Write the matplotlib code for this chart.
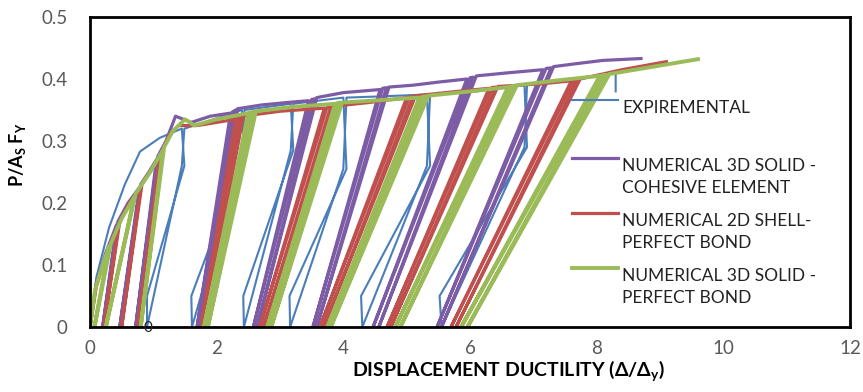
import numpy as np
import matplotlib
matplotlib.use("Agg")
import matplotlib.pyplot as plt

plt.rcParams["mathtext.default"] = "regular"

# ---------------- data (path vertices) ----------------
exp_path = [(0, 0), (0.1, 0.08), (0.3, 0.16), (0.55, 0.23), (0.79, 0.283), (1.1, 0.305), (1.45, 0.32),
            (1.49, 0.26), (0.9, 0.05), (0.9, 0), (1.45, 0.26), (1.49, 0.32), (1.8, 0.33), (2.4, 0.35),
            (2.44, 0.28), (1.6, 0.05), (1.61, 0), (2.4, 0.28), (2.44, 0.35), (2.8, 0.355), (3.17, 0.36),
            (3.21, 0.285), (2.42, 0.05), (2.43, 0), (3.17, 0.285), (3.21, 0.36), (3.6, 0.365), (4.0, 0.37),
            (4.05, 0.255), (3.15, 0.05), (3.16, 0), (4.0, 0.255), (4.05, 0.37), (4.6, 0.372), (5.32, 0.375),
            (5.37, 0.26), (4.28, 0.05), (4.3, 0), (5.32, 0.26), (5.37, 0.375), (6.1, 0.38), (6.86, 0.39),
            (6.9, 0.29), (5.52, 0.05), (5.55, 0), (6.86, 0.29), (6.9, 0.39), (7.6, 0.40), (8.3, 0.41),
            (8.3, 0.38)]

coh_path = [(0, 0), (0.1, 0.07), (0.25, 0.12), (0.42, 0.165), (0.2, 0), (0.44, 0.17), (0.6, 0.2),
            (0.78, 0.225), (0.47, 0), (0.8, 0.23), (0.93, 0.25), (1.05, 0.27), (0.72, 0), (1.07, 0.275),
            (1.2, 0.3), (1.35, 0.34), (1.6, 0.33), (1.9, 0.34), (2.22, 0.345), (1.69, 0), (2.25, 0.347),
            (2.3, 0.35), (1.74, 0), (2.33, 0.352), (2.7, 0.358), (3.1, 0.362), (3.45, 0.365), (2.58, 0),
            (3.5, 0.367), (3.55, 0.368), (2.64, 0), (3.58, 0.37), (4.0, 0.378), (4.58, 0.383), (3.52, 0),
            (4.62, 0.385), (4.68, 0.386), (3.58, 0), (4.72, 0.387), (5.1, 0.39), (5.5, 0.395), (5.95, 0.40),
            (4.47, 0), (6.0, 0.402), (6.05, 0.403), (4.56, 0), (6.1, 0.405), (6.6, 0.41), (7.15, 0.415),
            (5.48, 0), (7.2, 0.417), (7.28, 0.418), (5.55, 0), (7.32, 0.42), (7.7, 0.425), (8.1, 0.43),
            (8.7, 0.433)]

shell_path = [(0, 0), (0.1, 0.065), (0.25, 0.115), (0.45, 0.165), (0.22, 0), (0.47, 0.17), (0.62, 0.2),
              (0.8, 0.225), (0.5, 0), (0.82, 0.23), (0.95, 0.25), (1.1, 0.275), (0.75, 0), (1.12, 0.28),
              (1.25, 0.31), (1.4, 0.325), (1.7, 0.325), (2.0, 0.33), (2.3, 0.335), (1.75, 0), (2.33, 0.337),
              (2.38, 0.338), (1.8, 0), (2.42, 0.34), (3.0, 0.348), (3.7, 0.353), (2.68, 0), (3.74, 0.354),
              (3.8, 0.355), (2.74, 0), (3.84, 0.356), (4.4, 0.362), (5.0, 0.37), (3.63, 0), (5.04, 0.371),
              (5.1, 0.372), (3.69, 0), (5.14, 0.373), (5.8, 0.38), (6.3, 0.385), (4.69, 0), (6.34, 0.386),
              (6.4, 0.387), (4.75, 0), (6.44, 0.388), (7.1, 0.392), (7.6, 0.397), (5.7, 0), (7.64, 0.398),
              (7.7, 0.399), (5.78, 0), (7.74, 0.4), (8.4, 0.415), (9.1, 0.428)]

solid_path = [(0, 0), (0.08, 0.06), (0.2, 0.1), (0.3, 0.13), (0.07, 0), (0.33, 0.135), (0.5, 0.175),
              (0.7, 0.21), (0.25, 0), (0.72, 0.215), (0.95, 0.25), (1.15, 0.285), (0.8, 0), (1.17, 0.29),
              (1.3, 0.315), (1.5, 0.335), (1.65, 0.325), (2.0, 0.335), (2.5, 0.345), (1.8, 0), (2.53, 0.346),
              (2.58, 0.347), (1.86, 0), (2.62, 0.348), (3.2, 0.355), (3.87, 0.36), (2.8, 0), (3.9, 0.361),
              (3.95, 0.362), (2.86, 0), (3.98, 0.362), (4.6, 0.366), (5.2, 0.37), (3.75, 0), (5.24, 0.371),
              (5.3, 0.372), (3.8, 0), (5.34, 0.373), (6.0, 0.38), (6.6, 0.387), (4.82, 0), (6.64, 0.388),
              (6.7, 0.389), (4.9, 0), (6.74, 0.39), (7.4, 0.398), (8.05, 0.405), (5.86, 0), (8.09, 0.406),
              (8.15, 0.407), (5.96, 0), (8.2, 0.408), (8.9, 0.42), (9.6, 0.432)]

series_names = ["EXPIREMENTAL", "NUMERICAL 3D SOLID -\nCOHESIVE ELEMENT",
                "NUMERICAL 2D SHELL-\nPERFECT BOND", "NUMERICAL 3D SOLID -\nPERFECT BOND"]
x_ticks = [0, 2, 4, 6, 8, 10, 12]
y_ticks = [0, 0.1, 0.2, 0.3, 0.4, 0.5]

# ---------------- style ----------------
colors = ["#4A7EBB", "#7D5CA6", "#C0504D", "#9BBB59"]
widths = [1.5, 2.3, 2.3, 2.8]
FONT = "Lato"

fig = plt.figure(figsize=(8.63, 3.92), dpi=100)
ax = fig.add_axes([90 / 863, 1 - 327 / 392, (850 - 90) / 863, (327 - 17) / 392])

paths = [exp_path, coh_path, shell_path, solid_path]
for p, c, w in zip(paths, colors, widths):
    a = np.array(p)
    ax.plot(a[:, 0], a[:, 1], color=c, lw=w, solid_joinstyle="round", zorder=2)

ax.set_xlim(0, 12)
ax.set_ylim(0, 0.5)
ax.set_xticks(x_ticks)
ax.set_yticks(y_ticks)
ax.set_xticklabels([str(t) for t in x_ticks])
ax.set_yticklabels(["0" if t == 0 else f"{t:.1f}" for t in y_ticks])
ax.tick_params(length=0, labelsize=13.5, labelcolor="#595959")
ax.tick_params(axis="x", pad=9)
ax.tick_params(axis="y", pad=16)
for lab in ax.get_xticklabels() + ax.get_yticklabels():
    lab.set_fontfamily(FONT)
for s in ax.spines.values():
    s.set_linewidth(2.0)
    s.set_color("black")

# stray "0" near origin
ax.text(0.92, -0.002, "0", ha="center", va="center", fontsize=11, color="#222222",
        family=FONT, zorder=5, clip_on=False)

ax.set_xlabel(r"DISPLACEMENT DUCTILITY ($\Delta/\Delta_\mathregular{y}$)", fontsize=14,
              fontweight="bold", family=FONT, labelpad=0)
ax.xaxis.set_label_coords((509 - 90) / 760, -(358 - 327) / 310)
ax.set_ylabel(r"P/A$_\mathregular{S}$ F$_\mathregular{Y}$", fontsize=13, fontweight="bold", family=FONT)
ax.yaxis.set_label_coords(-(90 - 28) / 760, (327 - 155) / 310)

# ---------------- legend (drawn manually to mimic Excel layout) ----------------
leg_y_px = [100, 158, 213, 268]
for name, c, w, ypx in zip(series_names, colors, widths, leg_y_px):
    yf = (327 - ypx) / 310
    x0 = (572 - 90) / 760
    x1 = (618 - 90) / 760
    ax.plot([x0, x1], [yf, yf], transform=ax.transAxes, color=c, lw=w, clip_on=False, zorder=4)
    ax.text((622 - 90) / 760, yf, name, transform=ax.transAxes, fontsize=12.5, family=FONT,
            color="#222222", va="top", ha="left", linespacing=1.45, zorder=4)

fig.savefig("out.png", dpi=100)
